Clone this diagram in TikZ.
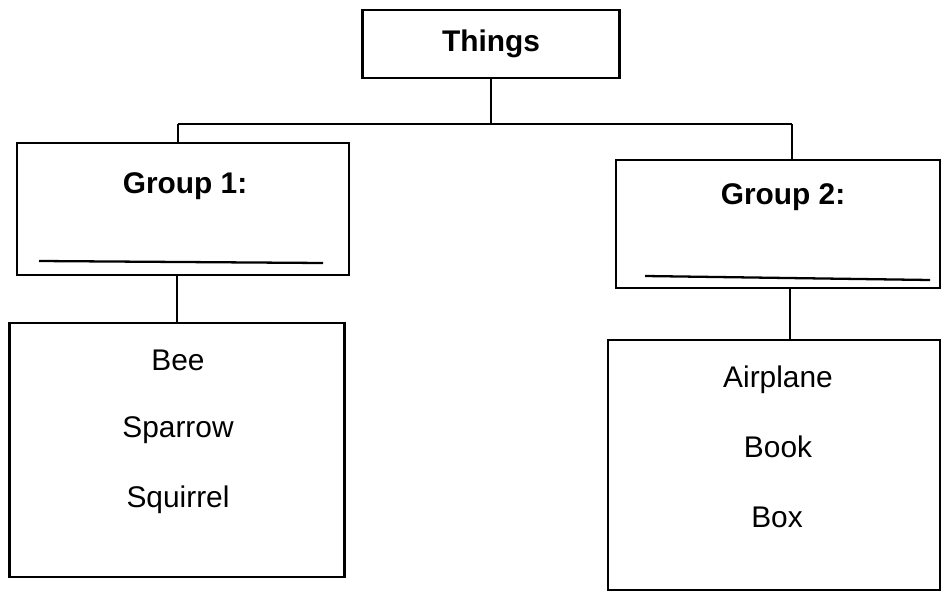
\documentclass[tikz,border=0pt]{standalone}
\usepackage{fontspec}
\setmainfont{Liberation Sans}
\tikzset{
  box/.style={draw, line width=1.3pt, inner sep=0pt},
  word/.style={font=\fontsize{17}{20}\selectfont},
  title/.style={font=\fontsize{17}{20}\selectfont\bfseries},
  link/.style={line width=1.3pt}
}
\begin{document}
\begin{tikzpicture}[x=0.02cm, y=-0.02cm]

  % Fix the page to the size of the picture
  \useasboundingbox (0,0) rectangle (942,598);

  % The top box
  \node[box, minimum width=5.14cm, minimum height=1.36cm] (things) at (491,44) {};
  \node[title] (thingstext) at (491,44) {Things};

  % The two group boxes
  \node[box, minimum width=6.64cm, minimum height=2.64cm] (g1) at (183,209) {};
  \node[box, minimum width=6.48cm, minimum height=2.56cm] (g2) at (778,224) {};
  \node[title] (g1text) at (185,186) {Group 1:};
  \node[title] (g2text) at (783,197) {Group 2:};

  % Blank lines to write on
  \coordinate (u1a) at (39,261);
  \coordinate (u1b) at (323,263);
  \coordinate (u2a) at (645,276);
  \coordinate (u2b) at (930,280);
  \draw[link] (u1a) -- (u1b);
  \draw[link] (u2a) -- (u2b);

  % The two list boxes
  \node[box, minimum width=6.70cm, minimum height=5.08cm] (list1) at (177,450) {};
  \node[box, minimum width=6.64cm, minimum height=5.00cm] (list2) at (774,465) {};

  % Items of group 1
  \node[word] (bee) at (178,360) {Bee};
  \node[word] (sparrow) at (178,430) {Sparrow};
  \node[word] (squirrel) at (178,500) {Squirrel};

  % Items of group 2
  \node[word] (airplane) at (778,380) {Airplane};
  \node[word] (book) at (778,447) {Book};
  \node[word] (boxword) at (777,517) {Box};

  % The split point under the top box
  \coordinate (split) at (491,124);
  \coordinate (left) at (178,124);
  \coordinate (right) at (792,124);

  % Connectors
  \draw[link] (things.south) -- (split);
  \draw[link] (left) -- (right);
  \draw[link] (left) -- (left |- g1.north);
  \draw[link] (right) -- (right |- g2.north);
  \draw[link] (list1.north |- g1.south) -- (list1.north);
  \draw[link] (790,0 |- g2.south) -- (790,0 |- list2.north);

\end{tikzpicture}
\end{document}
